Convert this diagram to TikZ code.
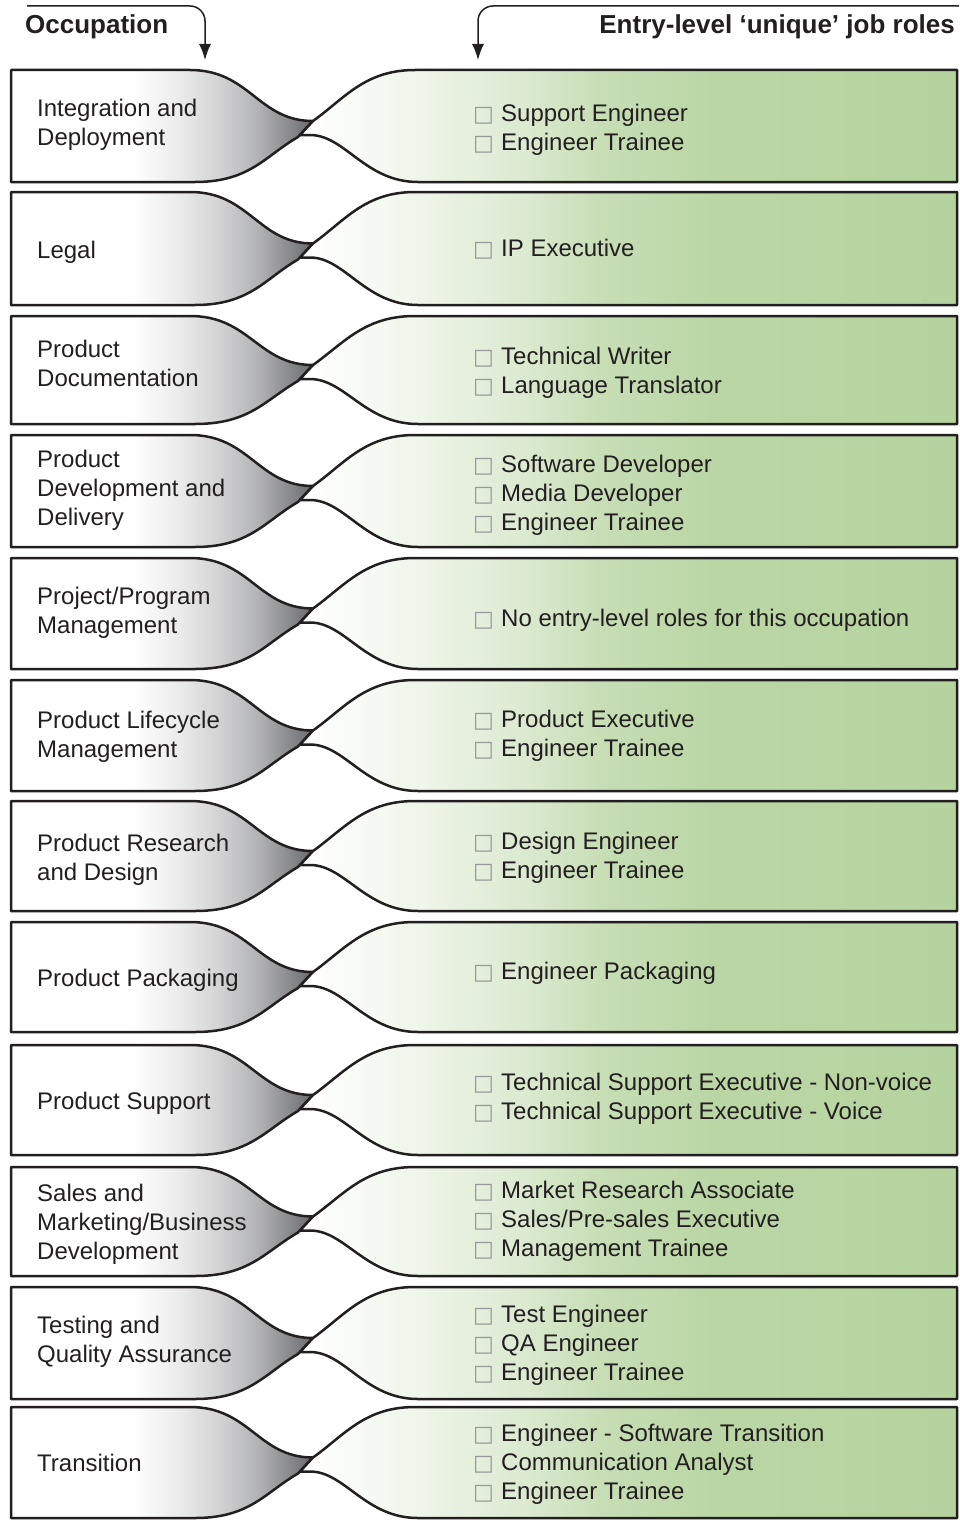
\documentclass[tikz,border=0pt]{standalone}
\usepackage{fontspec}
\setmainfont{Liberation Sans}
\newfontfamily\symfont{DejaVu Sans}
\usetikzlibrary{arrows.meta, positioning}

\definecolor{inkdark}{RGB}{35,31,32}
\definecolor{tipgrey}{RGB}{109,110,113}
\definecolor{rolegreen}{RGB}{181,211,158}
\definecolor{boxgrey}{RGB}{150,152,155}

\pgfdeclarehorizontalshading{occfade}{100bp}{color(0bp)=(white); color(25bp)=(white); color(45bp)=(white); color(53bp)=(tipgrey!14); color(59.6bp)=(tipgrey!31); color(66bp)=(tipgrey!53); color(71bp)=(tipgrey!80); color(74.5bp)=(tipgrey); color(100bp)=(tipgrey)}
\pgfdeclarehorizontalshading{rolefade}{100bp}{color(0bp)=(white); color(25bp)=(white); color(29bp)=(rolegreen!8); color(34bp)=(rolegreen!22); color(39bp)=(rolegreen!38); color(42bp)=(rolegreen!48); color(48bp)=(rolegreen!76); color(56bp)=(rolegreen!92); color(75bp)=(rolegreen); color(100bp)=(rolegreen)}

\newcommand\bx{\makebox[28pt][l]{\textcolor{boxgrey}{\fontsize{22}{22}\symfont □}}}

\tikzset{
  occshape/.style={draw=inkdark, line width=2.5pt, line join=round, shade, shading=occfade},
  roleshape/.style={draw=inkdark, line width=2.5pt, line join=round, shade, shading=rolefade},
  rowtext/.style={anchor=west, align=left, inner sep=0pt, text=inkdark, font=\fontsize{24}{29}\selectfont},
  headtext/.style={inner sep=0pt, text=inkdark, font=\fontsize{26}{30}\selectfont\bfseries},
  flowarrow/.style={-{Latex[length=16pt,width=12pt]}, line width=1.5pt, draw=inkdark, rounded corners=15pt}
}

\begin{document}
\begin{tikzpicture}[x=1pt, y=-1pt]
    \useasboundingbox (0,0) rectangle (959,1520);
    % Headings
    \node[headtext, anchor=base west] (occhead) at (25,34) {Occupation};
    \node[headtext, anchor=base east] (rolehead) at (955,34) {Entry-level ‘unique’ job roles};
    % Arrows into the first row
    \coordinate (occfrom) at (27,6);
    \coordinate (occto) at (205,60);
    \draw[flowarrow] (occfrom) -| (occto);
    \coordinate (rolefrom) at (959,6);
    \coordinate (roleto) at (478,60);
    \draw[flowarrow] (rolefrom) -| (roleto);
    % Rows: top / bottom / occupation y / roles y / occupation / roles
    \foreach \t/\b/\oy/\ry/\occ/\roles [count=\i] in {
      70/182/125/129.5/{Integration and\\Deployment}/{\bx Support Engineer\\\bx Engineer Trainee},
      192/305/252/249/{Legal}/{\bx IP Executive},
      316/424/363/373/{Product\\Documentation}/{\bx Technical Writer\\\bx Language Translator},
      435/547/490/495/{Product\\Development and\\Delivery}/{\bx Software Developer\\\bx Media Developer\\\bx Engineer Trainee},
      558/669/613/620/{Project/Program\\Management}/{\bx No entry-level roles for this occupation},
      680/791/737/736/{Product Lifecycle\\Management}/{\bx Product Executive\\\bx Engineer Trainee},
      801/911/860/857.5/{Product Research\\and Design}/{\bx Design Engineer\\\bx Engineer Trainee},
      922/1032/980/973/{Product Packaging}/{\bx Engineer Packaging},
      1045/1155/1103/1098.5/{Product Support}/{\bx Technical Support Executive - Non-voice\\\bx Technical Support Executive - Voice},
      1167/1276/1224/1221/{Sales and\\Marketing/Business\\Development}/{\bx Market Research Associate\\\bx Sales/Pre-sales Executive\\\bx Management Trainee},
      1287/1399/1342/1345.5/{Testing and\\Quality Assurance}/{\bx Test Engineer\\\bx QA Engineer\\\bx Engineer Trainee},
      1407/1518/1463/1464.5/{Transition}/{\bx Engineer - Software Transition\\\bx Communication Analyst\\\bx Engineer Trainee}}
    {
      \pgfmathsetmacro\m{(\t+\b)/2}
      % occupation side
      \draw[occshape] (11,\t) -- (190,\t) .. controls (250,\t) and (258,\m-5) .. (313,\m-5)
        -- (298,\m+11) .. controls (265,\m+30) and (250,\b) .. (195,\b) -- (11,\b) -- cycle;
      % job role side
      \draw[roleshape] (957,\t) -- (415,\t) .. controls (365,\t) and (345,\m-28) .. (313,\m-5)
        -- (300,\m+9) -- (310,\m+9) .. controls (345,\m+9) and (365,\b) .. (418,\b) -- (957,\b) -- cycle;
      \node[rowtext] (occ\i) at (37,\oy) {\occ};
      \node[rowtext] (role\i) at (473,\ry) {\roles};
    }
\end{tikzpicture}
\end{document}
